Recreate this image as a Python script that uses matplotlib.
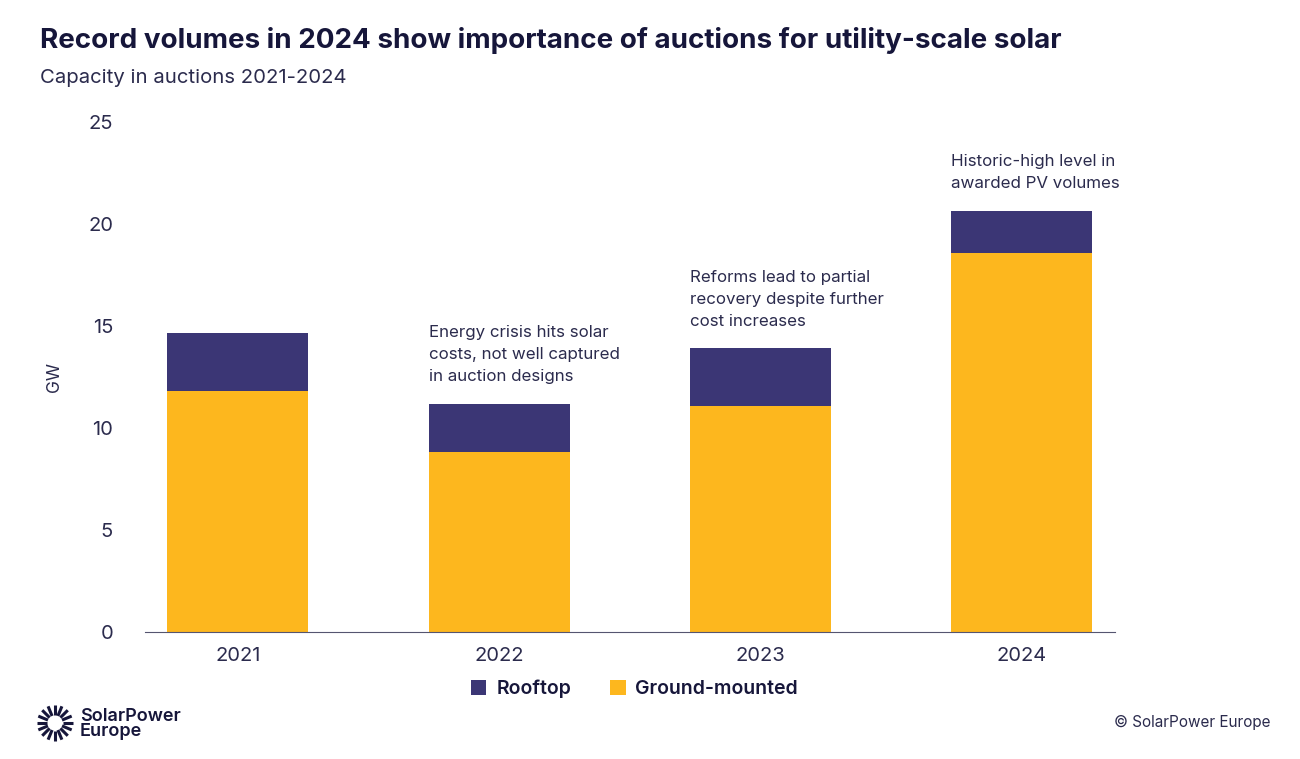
import matplotlib.pyplot as plt
import numpy as np

plt.rcParams['font.family'] = ['Inter', 'DejaVu Sans']

NAVY = '#3b3675'
GOLD = '#fdb71e'
INK = '#16163a'
TXT = '#2b2b4d'

years = ['2021', '2022', '2023', '2024']
ground = [11.8, 8.8, 11.1, 18.6]
rooftop = [2.85, 2.4, 2.8, 2.05]
notes = ['',
         'Energy crisis hits solar\ncosts, not well captured\nin auction designs',
         'Reforms lead to partial\nrecovery despite further\ncost increases',
         'Historic-high level in\nawarded PV volumes']
yticks = [0, 5, 10, 15, 20, 25]

fig = plt.figure(figsize=(13, 7.59), dpi=100)
ax = fig.add_axes([0.1115, 0.1673, 0.7465, 0.672])

x = np.arange(len(years))
w = 0.54
ax.bar(x, ground, w, color=GOLD, label='Ground-mounted')
ax.bar(x, rooftop, w, bottom=ground, color=NAVY, label='Rooftop')

for i, note in enumerate(notes):
    if note:
        ax.text(i - w / 2, ground[i] + rooftop[i] + 0.95, note, ha='left',
                va='bottom', fontsize=12.2, color=TXT, linespacing=1.6)

ax.set_xlim(-0.356, 3.36)
ax.set_ylim(0, 25)
ax.set_xticks(x)
ax.set_xticklabels(years)
ax.set_yticks(yticks)
for s in ['top', 'right', 'left']:
    ax.spines[s].set_visible(False)
ax.spines['bottom'].set_color('#555570')
ax.tick_params(axis='x', length=0, pad=11, labelsize=14.5, labelcolor=TXT)
ax.tick_params(axis='y', length=0, pad=23, labelsize=14.5, labelcolor=TXT)
ax.set_ylabel('GW', fontsize=12.5, color=TXT, labelpad=18)

fig.text(40 / 1300, 1 - 40 / 759, 'Record volumes in 2024 show importance of auctions for utility-scale solar',
         fontsize=20, fontweight='bold', color=INK, va='center')
fig.text(40 / 1300, 1 - 78 / 759, 'Capacity in auctions 2021-2024',
         fontsize=14.6, color=TXT, va='center')

h, l = ax.get_legend_handles_labels()
leg = fig.legend(h[::-1], l[::-1], loc='center', bbox_to_anchor=(0.488, 1 - 689 / 759),
                 ncol=2, frameon=False, handlelength=0.8, handleheight=0.8,
                 columnspacing=2.0, handletextpad=0.5,
                 prop={'size': 14, 'weight': 'semibold'})
for t in leg.get_texts():
    t.set_color(INK)

fig.text(1270 / 1300, 1 - 722 / 759, '© SolarPower Europe', fontsize=11,
         color=TXT, ha='right', va='center')

# logo
lax = fig.add_axes([36 / 1300, 1 - 742 / 759, 38 / 1300, 38 / 759])
lax.set_xlim(-1, 1)
lax.set_ylim(-1, 1)
lax.set_aspect('equal')
lax.axis('off')
for a in np.linspace(0, 2 * np.pi, 16, endpoint=False):
    lax.plot([0.4 * np.cos(a), 0.95 * np.cos(a)], [0.4 * np.sin(a), 0.95 * np.sin(a)],
             color=INK, lw=2.2, solid_capstyle='butt')
fig.text(80 / 1300, 1 - 724 / 759, 'SolarPower\nEurope', fontsize=13,
         fontweight='semibold', color=INK, va='center', linespacing=0.85)

fig.savefig('out.png', dpi=100, facecolor='white')
